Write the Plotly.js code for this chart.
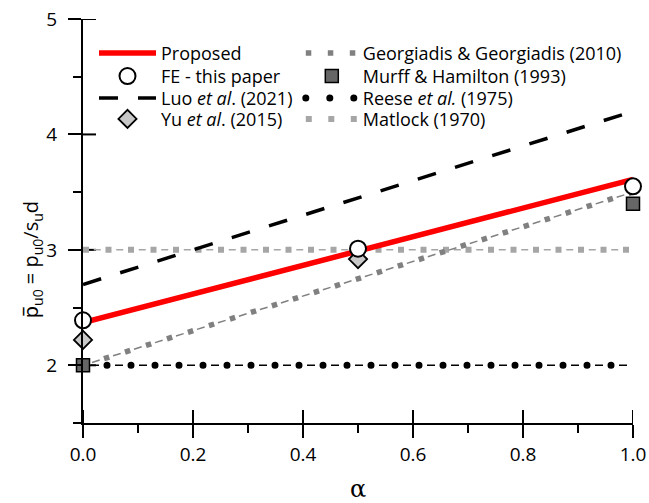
<!DOCTYPE html>
<html>
<head>
<meta charset="utf-8">
<script src="https://cdn.plot.ly/plotly-3.0.1.min.js"></script>
<style>
  html, body { margin: 0; padding: 0; background: #ffffff; }
  #chart { width: 649px; height: 503px; }
</style>
</head>
<body>
<div id="chart"></div>
<script>
// Normalised ultimate lateral resistance vs. adhesion factor alpha
const alphaEnds   = [0, 1];
const proposed    = [2.37, 3.61];
const feAlpha     = [0, 0.5, 1];
const feValues    = [2.39, 3.01, 3.55];
const luo         = [2.7, 4.2];
const yuAlpha     = [0, 0.5];
const yuValues    = [2.22, 2.92];
const georgiadis  = [2.0, 3.5];
const murffAlpha  = [0, 1];
const murffValues = [2.0, 3.4];
const reese       = [2.0, 2.0];
const matlock     = [3.0, 3.0];

// axis extents and major tick positions (labels come from the axis tickformat)
const xRange = [0, 1];
const yRange = [1.5, 5];
const xTicks = [0, 0.2, 0.4, 0.6, 0.8, 1.0];
const yTicks = [2, 3, 4, 5];

const FONT = 'Open Sans, Noto Sans, sans-serif';

function patternLine(y, color, width, dash, extra) {
  return Object.assign({
    type: 'scatter', mode: 'lines', x: alphaEnds, y: y,
    line: { color: color, width: width, dash: dash },
    hoverinfo: 'skip', cliponaxis: false, showlegend: false
  }, extra || {});
}

const traces = [
  // Matlock (1970): light grey blocks joined by short dashes
  patternLine(matlock, '#a6a6a6', 1.5, '0px,10.75px,7px,4.75px'),
  patternLine(matlock, '#a6a6a6', 6, '6px,16.5px',
    { showlegend: true, name: 'Matlock (1970)', legend: 'legend8' }),
  // Reese et al. (1975): black dots joined by short dashes
  patternLine(reese, '#000000', 1.5, '0px,8px,8px,8px'),
  patternLine(reese, '#000000', 7, '0.01px,23.99px',
    { showlegend: true, name: 'Reese <i>et al.</i> (1975)', legend: 'legend7', meta: 'roundcap' }),
  // Georgiadis & Georgiadis (2010): grey squares joined by short dashes
  patternLine(georgiadis, '#808080', 1.5, '0px,9.5px,8px,4.5px'),
  patternLine(georgiadis, '#808080', 5.5, '5.5px,16.5px',
    { showlegend: true, name: 'Georgiadis &amp; Georgiadis (2010)', legend: 'legend5' }),
  // Luo et al. (2021)
  {
    type: 'scatter', mode: 'lines', x: alphaEnds, y: luo,
    name: 'Luo <i>et al</i>. (2021)', legend: 'legend3',
    line: { color: '#000000', width: 3.5, dash: '19px,20px' }, cliponaxis: false
  },
  // Proposed
  {
    type: 'scatter', mode: 'lines', x: alphaEnds, y: proposed,
    name: 'Proposed', legend: 'legend',
    line: { color: '#ff0000', width: 5.5 }, cliponaxis: false
  },
  // Murff & Hamilton (1993)
  {
    type: 'scatter', mode: 'markers', x: murffAlpha, y: murffValues,
    name: 'Murff &amp; Hamilton (1993)', legend: 'legend6',
    marker: { symbol: 'square', size: 13, color: '#666666', line: { color: '#000000', width: 1.5 } },
    cliponaxis: false
  },
  // Yu et al. (2015)
  {
    type: 'scatter', mode: 'markers', x: yuAlpha, y: yuValues,
    name: 'Yu <i>et al</i>. (2015)', legend: 'legend4',
    marker: { symbol: 'diamond', size: 14, color: '#c8c8c8', line: { color: '#000000', width: 1.8 } },
    cliponaxis: false
  },
  // FE - this paper
  {
    type: 'scatter', mode: 'markers', x: feAlpha, y: feValues,
    name: 'FE - this paper', legend: 'legend2',
    marker: { symbol: 'circle', size: 16, color: '#ffffff', line: { color: '#000000', width: 2 } },
    cliponaxis: false
  }
];

const axisCommon = {
  showgrid: false, zeroline: false, showline: true, automargin: false,
  linecolor: '#000000', linewidth: 2,
  tickcolor: '#000000', tickwidth: 2, ticklen: 13, ticks: 'outside',
  tickfont: { family: FONT, size: 19, color: '#000000' }
};

// legend rows: left column x, right column x, row centres (paper units)
const colX = [0.0200, 0.396];
const rowY = [0.915, 0.858, 0.804, 0.752];

function legendBox(col, row, itemwidth) {
  return {
    xref: 'paper', yref: 'paper', xanchor: 'left', yanchor: 'middle',
    x: colX[col], y: rowY[row], itemwidth: itemwidth,
    orientation: 'v', bgcolor: 'rgba(0,0,0,0)',
    font: { family: FONT, size: 18, color: '#000000' }
  };
}

// inner half of each crossing major tick (the outer half is the axis' own tick),
// about 13 px long on a 550 x 404 px plot area
const plotW = 649 - 83 - 16, plotH = 503 - 19 - 80;
const innerX = 13 / plotW * (xRange[1] - xRange[0]);
const innerY = 13 / plotH * (yRange[1] - yRange[0]);
const tickShapes = xTicks.map(function (v) {
  return {
    type: 'line', layer: 'below', xref: 'x', yref: 'y',
    x0: v, x1: v, y0: yRange[0], y1: yRange[0] + innerY,
    line: { color: '#000000', width: 2 }
  };
}).concat(yTicks.map(function (v) {
  return {
    type: 'line', layer: 'below', xref: 'x', yref: 'y',
    x0: xRange[0], x1: xRange[0] + innerX, y0: v, y1: v,
    line: { color: '#000000', width: 2 }
  };
}));

const layout = {
  width: 649, height: 503,
  margin: { l: 83, r: 16, t: 19, b: 80, autoexpand: false },
  paper_bgcolor: '#ffffff', plot_bgcolor: 'rgba(0,0,0,0)',
  showlegend: true,
  xaxis: Object.assign({}, axisCommon, {
    range: xRange, tickmode: 'array', tickvals: xTicks, tickformat: '.1f',
    minor: { tickmode: 'linear', tick0: 0, dtick: 0.1, ticks: 'outside', ticklen: 8, tickwidth: 2, tickcolor: '#000000', showgrid: false },
    title: { text: 'α', font: { family: 'DejaVu Serif, serif', size: 24, color: '#000000' }, standoff: 14 }
  }),
  yaxis: Object.assign({}, axisCommon, {
    range: yRange, tickmode: 'array', tickvals: yTicks,
    ticklabelstandoff: 7,
    minor: { tickmode: 'linear', tick0: 0, dtick: 0.5, ticks: 'outside', ticklen: 8, tickwidth: 2, tickcolor: '#000000', showgrid: false }
  }),
  shapes: tickShapes,
  annotations: [{
    text: 'p\u0305<sub>u0</sub> = p<sub>u0</sub>/s<sub>u</sub>d',
    xref: 'paper', yref: 'paper', x: -0.093, y: 0.405, textangle: -90,
    showarrow: false, xanchor: 'center', yanchor: 'middle',
    font: { family: FONT, size: 20, color: '#000000' }
  }],
  legend:  legendBox(0, 0, 57),
  legend2: legendBox(0, 1, 57),
  legend3: legendBox(0, 2, 57),
  legend4: legendBox(0, 3, 57),
  legend5: legendBox(1, 0, 52),
  legend6: legendBox(1, 1, 52),
  legend7: legendBox(1, 2, 52),
  legend8: legendBox(1, 3, 52)
};

Plotly.newPlot('chart', traces, layout, { staticPlot: true, displayModeBar: false }).then(function (gd) {
  // dotted series: give the dash segments round ends so they render as dots
  gd.querySelectorAll('.trace, .traces').forEach(function (el) {
    const d = el.__data__;
    const tr = d && d[0] && d[0].trace;
    if (tr && tr.meta === 'roundcap') {
      el.querySelectorAll('path').forEach(function (p) { p.style.strokeLinecap = 'round'; });
    }
  });
});
</script>
</body>
</html>
